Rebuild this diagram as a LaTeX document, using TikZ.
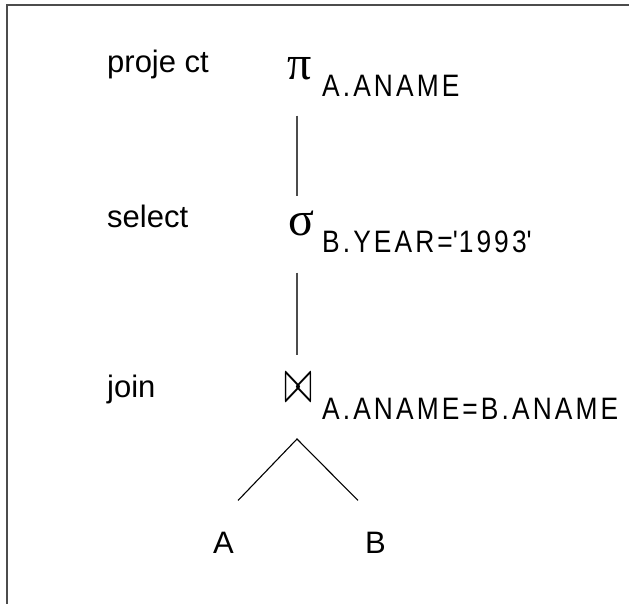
\documentclass[tikz,border=0pt]{standalone}
\usepackage{fontspec}
\usepackage{graphicx}
\setmainfont{Liberation Sans}
\newfontfamily\grk{Liberation Serif}
\newfontfamily\subf[FakeStretch=0.85,LetterSpace=10]{Liberation Sans}
\tikzset{
  lbl/.style={anchor=base west, inner sep=0pt, font=\fontsize{31}{31}\selectfont},
  sub/.style={anchor=base west, inner sep=0pt, font=\subf\fontsize{31}{31}\selectfont},
  op/.style={anchor=base, inner sep=0pt, font=\grk\fontsize{48}{48}\selectfont},
  leaf/.style={anchor=base, inner sep=0pt, font=\fontsize{31}{31}\selectfont},
  vline/.style={draw=black!70, line width=1.5pt},
  edge/.style={draw=black, line width=1.1pt},
  frame/.style={draw=black!70, line width=2pt}
}
\begin{document}
\begin{tikzpicture}[x=1pt,y=-1pt]
\useasboundingbox (0,0) rectangle (629,604);
\draw[frame] (7,604) -- (7,5) -- (629,5);
% row labels
\node[lbl] (lproject) at (107,73) {proje ct};
\node[lbl] (lselect) at (107,228) {select};
\node[lbl] (ljoin) at (107,397) {join};
% operators
\node[op] (pi) at (299.5,80) {π};
\node[op] (sigma) at (301,236) {σ};
\node[anchor=base, inner sep=0pt] (bowtie) at (298.5,402) {\scalebox{3.4}[6.2]{$\bowtie$}};
% subscripts
\node[sub] (spi) at (322,97) {A.ANAME};
\node[sub] (ssigma) at (322,252) {B.YEAR=\textquotesingle1993\textquotesingle};
\node[sub] (sjoin) at (322,419) {A.ANAME=B.ANAME};
% leaves
\node[leaf] (A) at (223.5,553) {A};
\node[leaf] (B) at (375.5,553) {B};
% connectors
\draw[vline] ([xshift=-2.5pt,yshift=-35pt]pi.south) -- ([xshift=-4pt,yshift=15pt]sigma.north);
\draw[vline] ([xshift=-4pt,yshift=-36pt]sigma.south) -- ([xshift=-1.5pt]bowtie.north |- 0,355);
\coordinate (apex) at ([xshift=-1.5pt]bowtie.north |- 0,439);
\draw[edge] ([xshift=14.5pt,yshift=31pt]A.north) -- (apex) -- ([xshift=-17.5pt,yshift=31pt]B.north);
\end{tikzpicture}
\end{document}
